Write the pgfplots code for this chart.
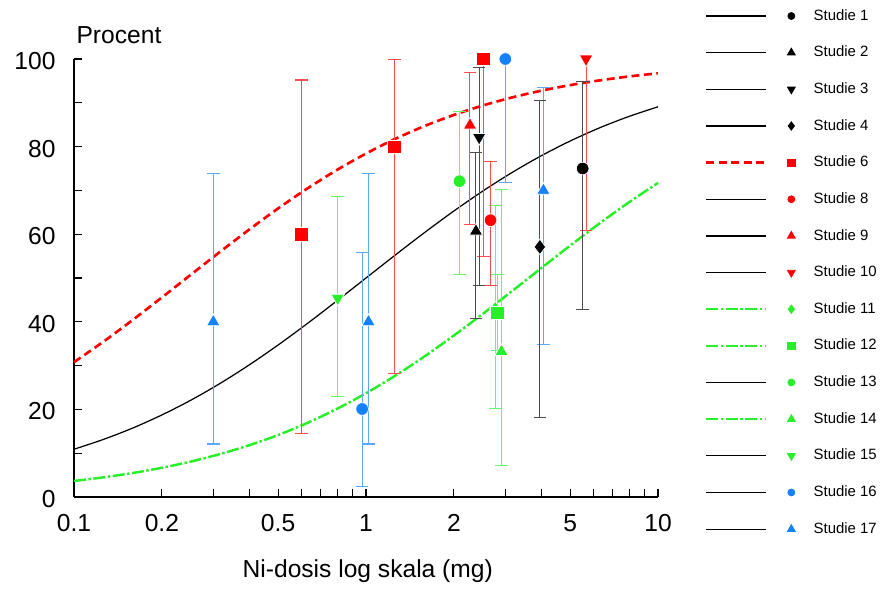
\documentclass[border=0pt]{standalone}
\usepackage{pgfplots}
\pgfplotsset{compat=1.18}
\usepackage{fontspec}
\setmainfont{Liberation Sans}
\definecolor{cred}{RGB}{255,0,0}
\definecolor{cblue}{RGB}{20,130,255}
\definecolor{cgreen}{RGB}{40,240,40}
\tikzset{
 blackline/.style={black, line width=0.7pt, solid},
 redline/.style={cred, line width=1.5pt, dash pattern=on 0.16cm off 0.09cm},
 greenline/.style={cgreen, line width=1.4pt, dash pattern=on 0.24cm off 0.05cm on 0.05cm off 0.05cm},
}
\pgfplotsset{
 pts/.style={only marks, forget plot, color=#1,
   /pgfplots/error bars/y dir=both, /pgfplots/error bars/y explicit,
   /pgfplots/error bars/error bar style={#1!70, line width=0.6pt, solid},
   /pgfplots/error bars/error mark options={rotate=90, mark size=0.127cm, #1!70, line width=0.6pt, solid}},
 mk/.style={mark options={solid, fill=#1, draw=white, line width=0.4pt}},
 mkinv/.style={mark options={solid, fill=#1, draw=white, line width=0.4pt, rotate=180}},
}
\newcommand{\legimg}[2]{\addlegendimage{legend image code/.code={\draw[#1] (0cm,0cm)--(1.2cm,0cm); \draw[#2] plot coordinates {(1.7cm,0cm)}; \path (2.14cm,0cm);}}}
\begin{document}
\begin{tikzpicture}
\begin{axis}[
 at={(0,0)}, anchor=south west, scale only axis,
 width=11.68cm, height=8.76cm,
 xmode=log, xmin=0.1, xmax=10, ymin=0, ymax=100,
 axis x line*=bottom, axis y line*=left,
 axis line style={-, line width=0.7pt},
 xtick={0.1,0.2,0.5,1,2,5,10}, xticklabels={0.1,0.2,0.5,1,2,5,10},
 minor xtick={0.3,0.4,0.6,0.7,0.8,0.9,3,4,6,7,8,9},
 ytick={0,20,40,60,80,100}, minor ytick={10,30,50,70,90},
 tick align=inside,
 major tick length=0.16cm, minor tick length=0.16cm,
 tick style={black, line width=0.6pt},
 /pgf/number format/assume math mode=true,
 ticklabel style={font=\fontsize{14}{16}\selectfont},
 yticklabel style={xshift=-0.245cm, yshift=-0.04cm},
 xticklabel style={yshift=-0.23cm},
 xlabel={Ni-dosis log skala (mg)},
 xlabel style={font=\fontsize{14}{16}\selectfont, at={(axis description cs:0.503,-0.170)}, anchor=center},
 clip=false,
 legend cell align=left,
 legend style={draw=none, fill=none, inner sep=0pt, outer sep=0pt, row sep=0pt, column sep=0pt,
   at={(axis description cs:1.0805,1.140)}, anchor=north west,
   font=\fontsize{8.5}{10}\selectfont,
   nodes={inner sep=0pt, minimum height=0.733cm}},
]
% legend
\legimg{blackline}{black, mark=*, mark size=2pt, mark options={solid, fill=black}}
\addlegendentry{Studie 1}
\legimg{blackline}{black, mark=triangle*, mark size=2.6pt, mark options={solid, fill=black}}
\addlegendentry{Studie 2}
\legimg{blackline}{black, mark=triangle*, mark size=2.6pt, mark options={solid, fill=black, rotate=180}}
\addlegendentry{Studie 3}
\legimg{blackline}{black, mark=diamond*, mark size=2.4pt, mark options={solid, fill=black}}
\addlegendentry{Studie 4}
\legimg{redline}{cred, mark=square*, mark size=2pt, mark options={solid, fill=cred}}
\addlegendentry{Studie 6}
\legimg{blackline}{cred, mark=*, mark size=2pt, mark options={solid, fill=cred}}
\addlegendentry{Studie 8}
\legimg{blackline}{cred, mark=triangle*, mark size=2.6pt, mark options={solid, fill=cred}}
\addlegendentry{Studie 9}
\legimg{blackline}{cred, mark=triangle*, mark size=2.6pt, mark options={solid, fill=cred, rotate=180}}
\addlegendentry{Studie 10}
\legimg{greenline}{cgreen, mark=diamond*, mark size=2.4pt, mark options={solid, fill=cgreen}}
\addlegendentry{Studie 11}
\legimg{greenline}{cgreen, mark=square*, mark size=2pt, mark options={solid, fill=cgreen}}
\addlegendentry{Studie 12}
\legimg{blackline}{cgreen, mark=*, mark size=2pt, mark options={solid, fill=cgreen}}
\addlegendentry{Studie 13}
\legimg{greenline}{cgreen, mark=triangle*, mark size=2.6pt, mark options={solid, fill=cgreen}}
\addlegendentry{Studie 14}
\legimg{blackline}{cgreen, mark=triangle*, mark size=2.6pt, mark options={solid, fill=cgreen, rotate=180}}
\addlegendentry{Studie 15}
\legimg{blackline}{cblue, mark=*, mark size=2pt, mark options={solid, fill=cblue}}
\addlegendentry{Studie 16}
\legimg{blackline}{cblue, mark=triangle*, mark size=2.6pt, mark options={solid, fill=cblue}}
\addlegendentry{Studie 17}
% curves
\addplot[blackline, smooth, forget plot] coordinates {
(0.1,10.91) (0.1259,13.13) (0.1585,15.71) (0.1995,18.70) (0.2512,22.10) (0.3162,25.92) (0.3981,30.15) (0.5012,34.75) (0.6310,39.65) (0.7943,44.77) (1,50.00) (1.2589,55.23) (1.5849,60.35) (1.9953,65.25) (2.5119,69.85) (3.1623,74.08) (3.9811,77.90) (5.0119,81.30) (6.3096,84.29) (7.9433,86.87) (10,89.09)};
\addplot[redline, smooth, forget plot] coordinates {
(0.1,30.79) (0.1259,35.43) (0.1585,40.37) (0.1995,45.51) (0.2512,50.75) (0.3162,55.97) (0.3981,61.06) (0.5012,65.93) (0.6310,70.47) (0.7943,74.65) (1,78.41) (1.2589,81.76) (1.5849,84.68) (1.9953,87.21) (2.5119,89.38) (3.1623,91.22) (3.9811,92.76) (5.0119,94.05) (6.3096,95.12) (7.9433,96.01) (10,96.74)};
\addplot[greenline, smooth, forget plot] coordinates {
(0.1,3.66) (0.1259,4.48) (0.1585,5.47) (0.1995,6.66) (0.2512,8.09) (0.3162,9.80) (0.3981,11.82) (0.5012,14.18) (0.6310,16.94) (0.7943,20.10) (1,23.69) (1.2589,27.69) (1.5849,32.08) (1.9953,36.82) (2.5119,41.82) (3.1623,47.00) (3.9811,52.25) (5.0119,57.44) (6.3096,62.48) (7.9433,67.26) (10,71.71)};
% Studie 17 (blue triangles)
\addplot[mark=triangle*, mark size=4.4pt, mk=cblue, pts=cblue] coordinates {
(0.3,40) += (0,33.9) -= (0,27.9)
(1.02,40) += (0,33.9) -= (0,27.9)
(4.05,70) += (0,23.5) -= (0,35.1)};
% Studie 16 (blue circles)
\addplot[mark=*, mark size=3.6pt, mk=cblue, pts=cblue] coordinates {
(0.97,20.1) += (0,35.7) -= (0,17.7)};
\addplot[mark=*, mark size=3.6pt, mk=cblue, pts=cblue, /pgfplots/error bars/y dir=minus] coordinates {
(3.0,100) -= (0,28.2)};
% Studie 15 (green down triangle)
\addplot[mark=triangle*, mark size=4.4pt, mkinv=cgreen, pts=cgreen] coordinates {
(0.8,45.4) += (0,23.2) -= (0,22.4)};
% Studie 13 (green circle)
\addplot[mark=*, mark size=3.6pt, mk=cgreen, pts=cgreen] coordinates {
(2.09,72.1) += (0,16.0) -= (0,21.4)};
% Studie 11 (green diamond)
\addplot[mark=diamond*, mark size=4.4pt, mk=cgreen, pts=cgreen] coordinates {
(2.77,42.9) += (0,23.7) -= (0,22.7)};
% Studie 12 (green square)
\addplot[mark=square*, mark size=3.8pt, mk=cgreen, pts=cgreen] coordinates {
(2.82,42.1) += (0,8.8) -= (0,8.6)};
% Studie 14 (green triangle)
\addplot[mark=triangle*, mark size=4.4pt, mk=cgreen, pts=cgreen] coordinates {
(2.91,33.2) += (0,37.0) -= (0,25.9)};
% Studie 6 (red squares)
\addplot[mark=square*, mark size=3.8pt, mk=cred, pts=cred] coordinates {
(0.6,60) += (0,35.2) -= (0,45.6)
(1.25,80) += (0,19.9) -= (0,51.9)};
\addplot[mark=square*, mark size=3.8pt, mk=cred, pts=cred, /pgfplots/error bars/y dir=minus] coordinates {
(2.52,100) -= (0,45)};
% Studie 9 (red triangle)
\addplot[mark=triangle*, mark size=4.4pt, mk=cred, pts=cred] coordinates {
(2.27,84.9) += (0,12.1) -= (0,22.6)};
% Studie 8 (red circle)
\addplot[mark=*, mark size=3.6pt, mk=cred, pts=cred] coordinates {
(2.67,63.2) += (0,13.4) -= (0,14.9)};
% Studie 10 (red down triangle)
\addplot[mark=triangle*, mark size=4.4pt, mkinv=cred, pts=cred, /pgfplots/error bars/y dir=minus] coordinates {
(5.67,100) -= (0,39.2)};
% Studie 2 (black triangle)
\addplot[mark=triangle*, mark size=4.4pt, mk=black, pts=black] coordinates {
(2.38,60.7) += (0,17.9) -= (0,20.0)};
% Studie 3 (black down triangle)
\addplot[mark=triangle*, mark size=4.4pt, mkinv=black, pts=black] coordinates {
(2.44,82.1) += (0,16.0) -= (0,33.9)};
% Studie 4 (black diamond)
\addplot[mark=diamond*, mark size=4.4pt, mk=black, pts=black] coordinates {
(3.94,57.1) += (0,33.4) -= (0,38.9)};
% Studie 1 (black circle)
\addplot[mark=*, mark size=3.6pt, mk=black, pts=black] coordinates {
(5.52,75) += (0,19.8) -= (0,32.1)};
\node[font=\fontsize{14}{16}\selectfont] at (axis description cs:0.077,1.0548) {Procent};
\end{axis}
\pgfresetboundingbox
\path[use as bounding box] (-1.48cm,-1.86cm) rectangle (16.22cm,9.94cm);
\end{tikzpicture}
\end{document}
